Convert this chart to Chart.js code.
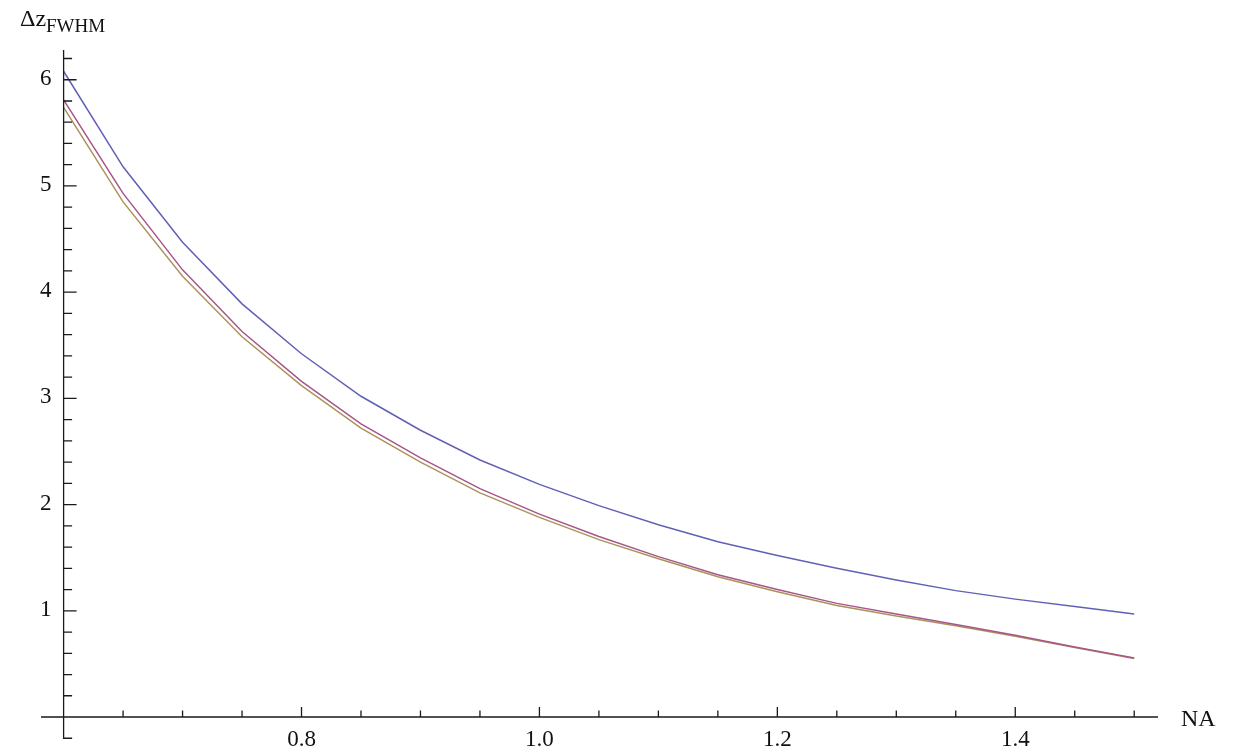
<!DOCTYPE html>
<html>
<head>
<meta charset="utf-8">
<script src="https://cdn.jsdelivr.net/npm/chart.js@4.4.0/dist/chart.umd.min.js"></script>
<style>
  html, body { margin: 0; padding: 0; background: #fff; }
  #wrap { width: 1238px; height: 756px; }
</style>
</head>
<body>
<div id="wrap"><canvas id="dzChart" width="1238" height="756"></canvas></div>
<script>
// NA samples and the three Δz_FWHM curves
const naValues = [0.6, 0.65, 0.7, 0.75, 0.8, 0.85, 0.9, 0.95, 1.0, 1.05, 1.1, 1.15, 1.2, 1.25, 1.3, 1.35, 1.4, 1.45, 1.5];
const dzBlue = [6.08, 5.18, 4.47, 3.89, 3.42, 3.02, 2.70, 2.42, 2.19, 1.99, 1.81, 1.65, 1.52, 1.40, 1.29, 1.19, 1.11, 1.04, 0.97];
const dzRed  = [5.81, 4.93, 4.21, 3.63, 3.16, 2.76, 2.44, 2.15, 1.91, 1.70, 1.51, 1.34, 1.20, 1.07, 0.97, 0.87, 0.77, 0.66, 0.555];
const dzGold = [5.74, 4.85, 4.15, 3.58, 3.12, 2.72, 2.40, 2.11, 1.88, 1.67, 1.49, 1.32, 1.18, 1.05, 0.95, 0.86, 0.76, 0.655, 0.55];

// tick marks
const xMajorTicks = [0.8, 1.0, 1.2, 1.4];
const xMinorTicks = [0.65, 0.7, 0.75, 0.85, 0.9, 0.95, 1.05, 1.1, 1.15, 1.25, 1.3, 1.35, 1.45, 1.5];
const yMajorTicks = [1, 2, 3, 4, 5, 6];
const yMinorTicks = [-0.2, 0.2, 0.4, 0.6, 0.8, 1.2, 1.4, 1.6, 1.8, 2.2, 2.4, 2.6, 2.8, 3.2, 3.4, 3.6, 3.8,
                     4.2, 4.4, 4.6, 4.8, 5.2, 5.4, 5.6, 5.8, 6.2];

const toPoints = ys => naValues.map((x, i) => ({ x: x, y: ys[i] }));
const serif = '"Liberation Serif", "DejaVu Serif", serif';

// draws the crossing axes, the inward tick marks, y labels and the axis captions
const axesPlugin = {
    id: 'axesPlugin',
    afterDraw(chart) {
        const ctx = chart.ctx;
        const area = chart.chartArea;
        const xs = chart.scales.x;
        const ys = chart.scales.y;
        const x0 = xs.getPixelForValue(0.6);
        const y0 = ys.getPixelForValue(0);

        ctx.save();
        ctx.strokeStyle = '#1a1a1a';
        ctx.lineWidth = 1.3;
        ctx.beginPath();
        ctx.moveTo(area.left, y0);
        ctx.lineTo(area.right, y0);
        ctx.moveTo(x0, area.top);
        ctx.lineTo(x0, area.bottom);

        xMajorTicks.forEach(v => {
            const px = xs.getPixelForValue(v);
            ctx.moveTo(px, y0);
            ctx.lineTo(px, y0 - 10);
        });
        xMinorTicks.forEach(v => {
            const px = xs.getPixelForValue(v);
            ctx.moveTo(px, y0);
            ctx.lineTo(px, y0 - 6.5);
        });
        yMajorTicks.forEach(v => {
            const py = ys.getPixelForValue(v);
            ctx.moveTo(x0, py);
            ctx.lineTo(x0 + 13, py);
        });
        yMinorTicks.forEach(v => {
            const py = ys.getPixelForValue(v);
            ctx.moveTo(x0, py);
            ctx.lineTo(x0 + 8.5, py);
        });
        ctx.stroke();

        ctx.fillStyle = '#111';

        // y tick labels, left of the axis
        ctx.font = '23px ' + serif;
        ctx.textAlign = 'right';
        ctx.textBaseline = 'middle';
        yMajorTicks.forEach(v => {
            ctx.fillText(String(v), x0 - 12, ys.getPixelForValue(v) - 1);
        });

        // axis captions
        ctx.textBaseline = 'alphabetic';
        ctx.textAlign = 'left';
        ctx.font = '24px ' + serif;
        ctx.fillText('NA', 1181, 726);
        ctx.fillText('\u0394z', 20, 26);
        ctx.font = '19px ' + serif;
        ctx.fillText('FWHM', 46, 32);
        ctx.restore();
    }
};

new Chart(document.getElementById('dzChart').getContext('2d'), {
    type: 'line',
    data: {
        datasets: [
            { data: toPoints(dzBlue), borderColor: 'rgb(96, 96, 182)' },
            { data: toPoints(dzRed), borderColor: 'rgb(170, 84, 138)' },
            { data: toPoints(dzGold), borderColor: 'rgb(168, 148, 90)' }
        ]
    },
    options: {
        responsive: false,
        devicePixelRatio: 1,
        animation: false,
        layout: {
            padding: { left: 41, top: 50, right: 80, bottom: 17 }
        },
        elements: {
            point: { radius: 0 },
            line: { borderWidth: 1.5, tension: 0, fill: false }
        },
        scales: {
            x: {
                type: 'linear',
                position: { y: 0 },
                min: 0.581,
                max: 1.52,
                grid: { display: false },
                border: { display: false },
                afterBuildTicks: scale => { scale.ticks = xMajorTicks.map(v => ({ value: v })); },
                ticks: {
                    autoSkip: false,
                    maxRotation: 0,
                    padding: 1,
                    color: '#111',
                    font: { family: serif, size: 23 },
                    callback: v => Number(v).toFixed(1)
                }
            },
            y: {
                type: 'linear',
                position: { x: 0.6 },
                min: -0.207,
                max: 6.28,
                grid: { display: false },
                border: { display: false },
                ticks: { display: false }
            }
        },
        plugins: {
            legend: { display: false },
            tooltip: { enabled: false },
            title: { display: false }
        }
    },
    plugins: [axesPlugin]
});
</script>
</body>
</html>
